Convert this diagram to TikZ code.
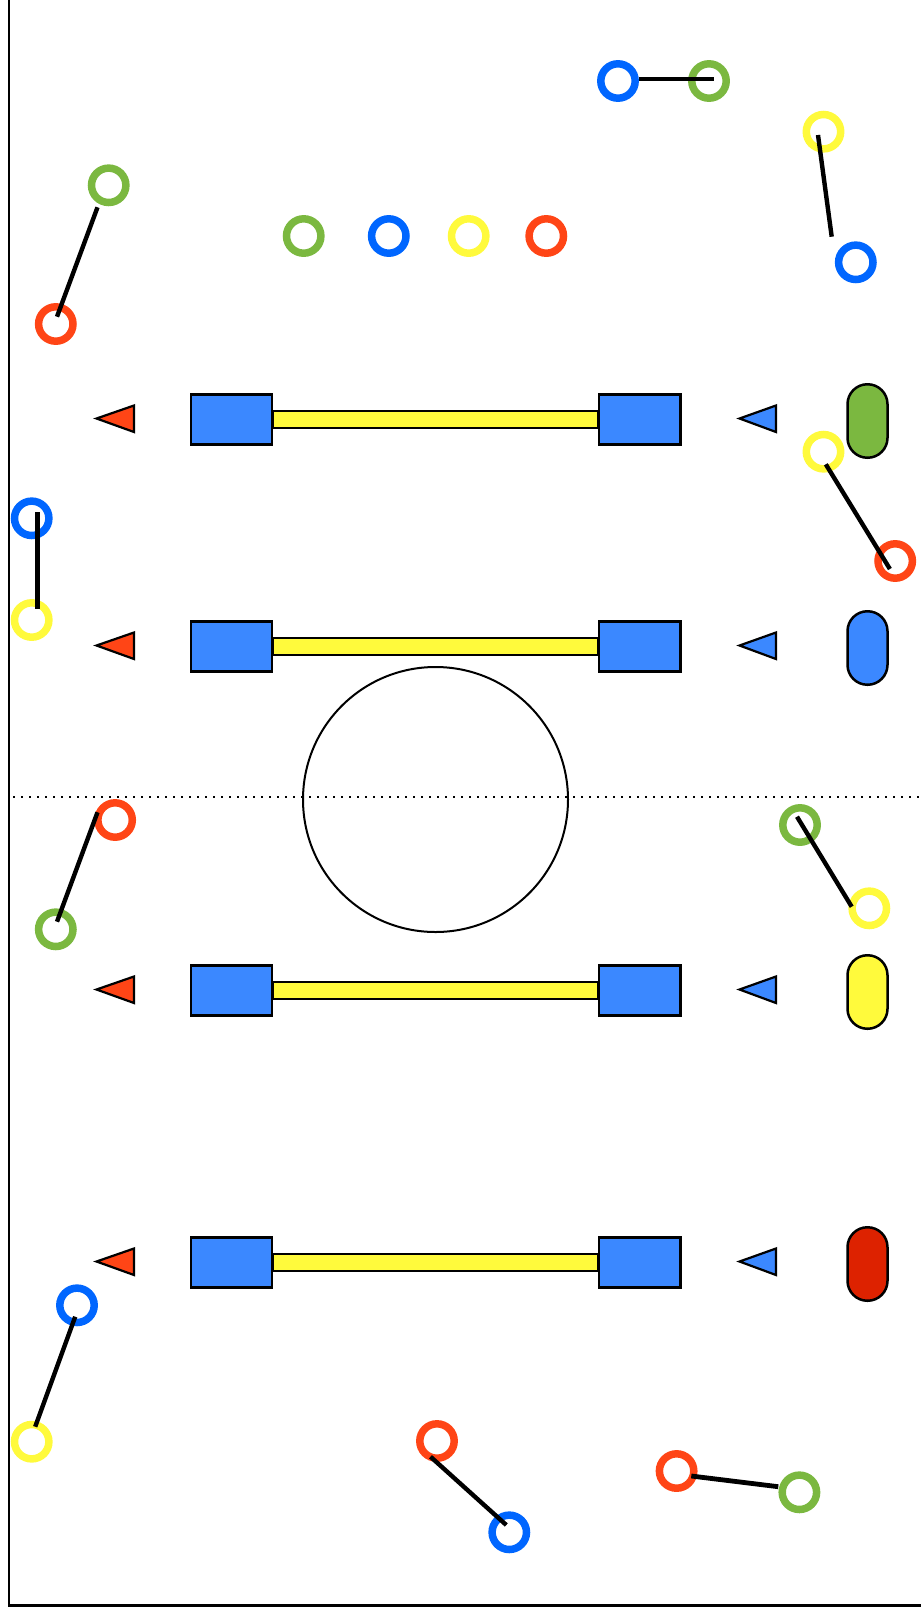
\documentclass[tikz,border=0pt]{standalone}
\usetikzlibrary{calc}
\definecolor{rblue}{HTML}{0066FF}
\definecolor{rgreen}{HTML}{7BB840}
\definecolor{ryellow}{HTML}{FFFA3C}
\definecolor{rred}{HTML}{FF4516}
\definecolor{sblue}{HTML}{3B88FF}
\definecolor{pred}{HTML}{DD2200}
\tikzset{
  ring/.style={circle, draw=#1, line width=7.5pt, minimum size=34.4pt, inner sep=0pt, fill=none},
  link/.style={draw=black, line width=4.4pt},
  sq/.style={rectangle, draw=black, fill=sblue, line width=2.2pt, minimum width=81.5pt, minimum height=50pt, inner sep=0pt},
  pill/.style={rectangle, draw=black, fill=#1, line width=2.5pt, minimum width=40pt, minimum height=73.5pt, inner sep=0pt, rounded corners=19.9pt},
  tri/.style={draw=black, fill=#1, line width=2.2pt, line join=miter},
  barst/.style={draw=black, fill=ryellow, line width=2.2pt}
}
\newcommand\drawrow[3]{%
  \draw[barst] (273,#1-8.3) rectangle (598,#1+8.3);
  \node[sq] (sqL#3) at (231.4,#1) {};
  \node[sq] (sqR#3) at (639.7,#1) {};
  \draw[tri=rred] (96.5,#1-1) -- (134,#1-14) -- (134,#1+12.5) -- cycle;
  \draw[tri=sblue] (739.5,#1-1) -- (776,#1-14) -- (776,#1+12.5) -- cycle;
  \node[pill=#2] (pill#3) at (867.5,#1+1.5) {};
}
\begin{document}
\begin{tikzpicture}[x=1pt,y=-1pt]
\useasboundingbox (0,0) rectangle (921,1612);
% frame
\draw[line width=2.5pt] (8.8,0) -- (8.8,1605.7) -- (921,1605.7);
% midline and centre circle
\draw[line width=2pt, dash pattern=on 2pt off 6pt] (13,797.3) -- (921,797.3);
\node[circle, draw=black, line width=2pt, minimum size=265pt, inner sep=0pt] (centre) at (435.5,799.5) {};
% rows
\drawrow{419.5}{rgreen}{1}
\drawrow{646.5}{sblue}{2}
\drawrow{990.5}{ryellow}{3}
\drawrow{1262.5}{pred}{4}
% rings
\node[ring=rblue] (a1) at (618,81) {};
\node[ring=rgreen] (a2) at (709,81) {};
\node[ring=ryellow] (b1) at (823.5,131.7) {};
\node[ring=rblue] (b2) at (855.8,262.3) {};
\node[ring=rgreen] (c1) at (108.7,185.3) {};
\node[ring=rred] (c2) at (55.8,324) {};
\node[ring=rgreen] (m1) at (303.7,236) {};
\node[ring=rblue] (m2) at (388.8,236) {};
\node[ring=ryellow] (m3) at (468.7,236) {};
\node[ring=rred] (m4) at (546.3,236) {};
\node[ring=ryellow] (d1) at (823.5,451.7) {};
\node[ring=rred] (d2) at (895.2,561) {};
\node[ring=rblue] (e1) at (31.7,518.3) {};
\node[ring=ryellow] (e2) at (31.7,620) {};
\node[ring=rred] (f1) at (115.1,820) {};
\node[ring=rgreen] (f2) at (55.8,929.3) {};
\node[ring=rgreen] (g1) at (800,825) {};
\node[ring=ryellow] (g2) at (869.3,908.3) {};
\node[ring=rblue] (h1) at (77,1305.3) {};
\node[ring=ryellow] (h2) at (31.7,1441.7) {};
\node[ring=rred] (i1) at (437,1441) {};
\node[ring=rblue] (i2) at (509.3,1532.3) {};
\node[ring=rred] (j1) at (676.6,1471) {};
\node[ring=rgreen] (j2) at (799.4,1492.3) {};
% connector end points
\coordinate (a1e) at (639,79);   \coordinate (a2e) at (714,79);
\coordinate (b1e) at (818,135);  \coordinate (b2e) at (831.7,236.7);
\coordinate (c1e) at (97.5,207.3); \coordinate (c2e) at (57,316.7);
\coordinate (d1e) at (825.8,464.3); \coordinate (d2e) at (889.9,569);
\coordinate (e1e) at (37.6,512.3); \coordinate (e2e) at (37.6,609);
\coordinate (f1e) at (97.5,812.3); \coordinate (f2e) at (57,921.7);
\coordinate (g1e) at (797,816.7); \coordinate (g2e) at (851.7,906.7);
\coordinate (h1e) at (75.2,1316.7); \coordinate (h2e) at (35.2,1426.7);
\coordinate (i1e) at (430.5,1456.7); \coordinate (i2e) at (506.3,1525);
\coordinate (j1e) at (691.3,1476); \coordinate (j2e) at (778.3,1486.7);
% connectors
\draw[link, line width=4.8pt] (a1e) -- (a2e);
\draw[link] (b1e) -- (b2e);
\draw[link] (c1e) -- (c2e);
\draw[link] (d1e) -- (d2e);
\draw[link] (e1e) -- (e2e);
\draw[link] (f1e) -- (f2e);
\draw[link] (g1e) -- (g2e);
\draw[link] (h1e) -- (h2e);
\draw[link] (i1e) -- (i2e);
\draw[link, line width=4.8pt] (j1e) -- (j2e);
\end{tikzpicture}
\end{document}
